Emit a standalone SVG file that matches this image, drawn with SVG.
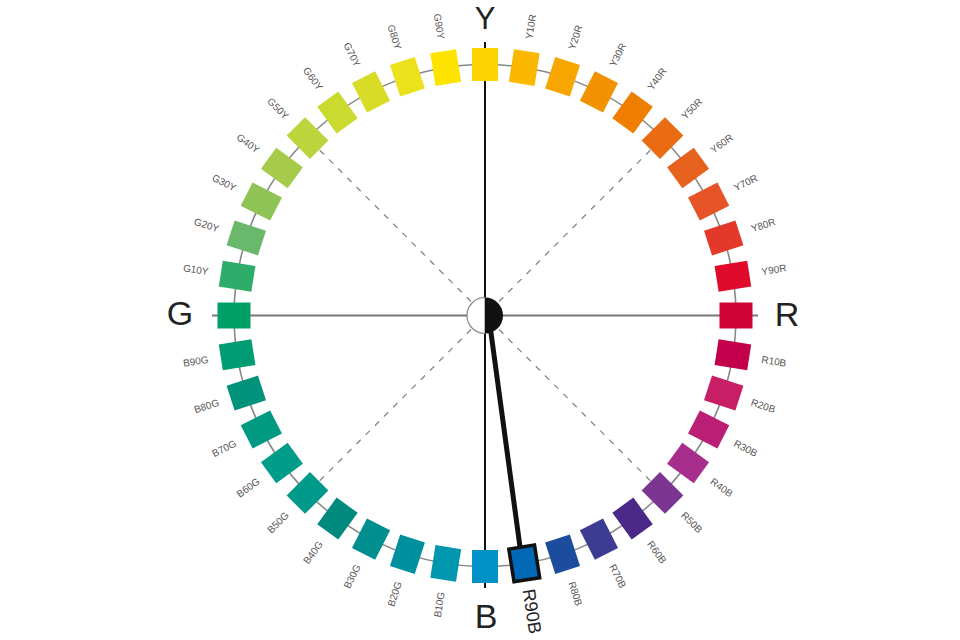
<svg xmlns="http://www.w3.org/2000/svg" width="960" height="640" viewBox="0 0 960 640">
<style>
.sq{stroke:none}
.lb{font-family:"Liberation Sans",Arial,sans-serif;font-size:10px;fill:#555}
.big{font-family:"Liberation Sans",Arial,sans-serif;font-size:34px;fill:#222;text-anchor:middle}
.dash{stroke:#888;stroke-width:1.3;stroke-dasharray:6 7;fill:none}
</style>
<rect width="960" height="640" fill="#fff"/>
<g id="connectors">
<circle cx="485" cy="315.5" r="251" fill="none" stroke="#888" stroke-width="1.6"/>
<line x1="212" y1="315.5" x2="758" y2="315.5" stroke="#777" stroke-width="2"/>
<line x1="485" y1="42" x2="485" y2="588" stroke="#111" stroke-width="2"/>
<g transform="translate(485 315.5)">
<line class="dash" x1="14" y1="-14" x2="177" y2="-177"/>
<line class="dash" x1="14" y1="14" x2="177" y2="177"/>
<line class="dash" x1="-14" y1="14" x2="-177" y2="177"/>
<line class="dash" x1="-14" y1="-14" x2="-177" y2="-177"/>
</g>
</g>
<g id="center">
<path d="M485 297.5 A18 18 0 0 0 485 333.5 Z" fill="#fff" stroke="#888" stroke-width="1.2"/>
<path d="M485 297.5 A18 18 0 0 1 485 333.5 Z" fill="#111"/>
</g>
<g id="pointer">
<line x1="489" y1="318" x2="520" y2="547" stroke="#111" stroke-width="5"/>
</g>
<g transform="translate(485 315.5)">
<g id="Y"><rect class="sq" transform="rotate(0)" x="-13" y="-267.5" width="26" height="33" fill="#FDD400"/></g>
<g id="Y10R"><rect class="sq" transform="rotate(9)" x="-13" y="-267.5" width="26" height="33" fill="#FBB800"/><text class="lb" transform="rotate(-81)" x="280" y="3.5">Y10R</text></g>
<g id="Y20R"><rect class="sq" transform="rotate(18)" x="-13" y="-267.5" width="26" height="33" fill="#F7A600"/><text class="lb" transform="rotate(-72)" x="280" y="3.5">Y20R</text></g>
<g id="Y30R"><rect class="sq" transform="rotate(27)" x="-13" y="-267.5" width="26" height="33" fill="#F39200"/><text class="lb" transform="rotate(-63)" x="280" y="3.5">Y30R</text></g>
<g id="Y40R"><rect class="sq" transform="rotate(36)" x="-13" y="-267.5" width="26" height="33" fill="#EE7D00"/><text class="lb" transform="rotate(-54)" x="280" y="3.5">Y40R</text></g>
<g id="Y50R"><rect class="sq" transform="rotate(45)" x="-13" y="-267.5" width="26" height="33" fill="#EA6B12"/><text class="lb" transform="rotate(-45)" x="280" y="3.5">Y50R</text></g>
<g id="Y60R"><rect class="sq" transform="rotate(54)" x="-13" y="-267.5" width="26" height="33" fill="#E8621F"/><text class="lb" transform="rotate(-36)" x="280" y="3.5">Y60R</text></g>
<g id="Y70R"><rect class="sq" transform="rotate(63)" x="-13" y="-267.5" width="26" height="33" fill="#E65326"/><text class="lb" transform="rotate(-27)" x="280" y="3.5">Y70R</text></g>
<g id="Y80R"><rect class="sq" transform="rotate(72)" x="-13" y="-267.5" width="26" height="33" fill="#E3392B"/><text class="lb" transform="rotate(-18)" x="280" y="3.5">Y80R</text></g>
<g id="Y90R"><rect class="sq" transform="rotate(81)" x="-13" y="-267.5" width="26" height="33" fill="#E00A2C"/><text class="lb" transform="rotate(-9)" x="280" y="3.5">Y90R</text></g>
<g id="R"><rect class="sq" transform="rotate(90)" x="-13" y="-267.5" width="26" height="33" fill="#D00535"/></g>
<g id="R10B"><rect class="sq" transform="rotate(99)" x="-13" y="-267.5" width="26" height="33" fill="#C2004B"/><text class="lb" transform="rotate(9)" x="280" y="3.5">R10B</text></g>
<g id="R20B"><rect class="sq" transform="rotate(108)" x="-13" y="-267.5" width="26" height="33" fill="#C71E66"/><text class="lb" transform="rotate(18)" x="280" y="3.5">R20B</text></g>
<g id="R30B"><rect class="sq" transform="rotate(117)" x="-13" y="-267.5" width="26" height="33" fill="#BA1F75"/><text class="lb" transform="rotate(27)" x="280" y="3.5">R30B</text></g>
<g id="R40B"><rect class="sq" transform="rotate(126)" x="-13" y="-267.5" width="26" height="33" fill="#A82E8E"/><text class="lb" transform="rotate(36)" x="280" y="3.5">R40B</text></g>
<g id="R50B"><rect class="sq" transform="rotate(135)" x="-13" y="-267.5" width="26" height="33" fill="#7C3590"/><text class="lb" transform="rotate(45)" x="280" y="3.5">R50B</text></g>
<g id="R60B"><rect class="sq" transform="rotate(144)" x="-13" y="-267.5" width="26" height="33" fill="#4A2888"/><text class="lb" transform="rotate(54)" x="280" y="3.5">R60B</text></g>
<g id="R70B"><rect class="sq" transform="rotate(153)" x="-13" y="-267.5" width="26" height="33" fill="#3C3C93"/><text class="lb" transform="rotate(63)" x="280" y="3.5">R70B</text></g>
<g id="R80B"><rect class="sq" transform="rotate(162)" x="-13" y="-267.5" width="26" height="33" fill="#1C4C9E"/><text class="lb" transform="rotate(72)" x="280" y="3.5">R80B</text></g>
<g id="R90B"><rect transform="rotate(171)" x="-13" y="-267.5" width="26" height="33" fill="#0068B5" stroke="#111" stroke-width="3.5"/><text class="lb" style="font-size:18px;fill:#222" transform="rotate(81)" x="277" y="6">R90B</text></g>
<g id="B"><rect class="sq" transform="rotate(180)" x="-13" y="-267.5" width="26" height="33" fill="#0091C7"/></g>
<g id="B10G"><rect class="sq" transform="rotate(189)" x="-13" y="-267.5" width="26" height="33" fill="#0097AE"/><text class="lb" text-anchor="end" transform="rotate(-81)" x="-280" y="3.5">B10G</text></g>
<g id="B20G"><rect class="sq" transform="rotate(198)" x="-13" y="-267.5" width="26" height="33" fill="#00909D"/><text class="lb" text-anchor="end" transform="rotate(-72)" x="-280" y="3.5">B20G</text></g>
<g id="B30G"><rect class="sq" transform="rotate(207)" x="-13" y="-267.5" width="26" height="33" fill="#008E8E"/><text class="lb" text-anchor="end" transform="rotate(-63)" x="-280" y="3.5">B30G</text></g>
<g id="B40G"><rect class="sq" transform="rotate(216)" x="-13" y="-267.5" width="26" height="33" fill="#008A7E"/><text class="lb" text-anchor="end" transform="rotate(-54)" x="-280" y="3.5">B40G</text></g>
<g id="B50G"><rect class="sq" transform="rotate(225)" x="-13" y="-267.5" width="26" height="33" fill="#009A8A"/><text class="lb" text-anchor="end" transform="rotate(-45)" x="-280" y="3.5">B50G</text></g>
<g id="B60G"><rect class="sq" transform="rotate(234)" x="-13" y="-267.5" width="26" height="33" fill="#009C8A"/><text class="lb" text-anchor="end" transform="rotate(-36)" x="-280" y="3.5">B60G</text></g>
<g id="B70G"><rect class="sq" transform="rotate(243)" x="-13" y="-267.5" width="26" height="33" fill="#009A83"/><text class="lb" text-anchor="end" transform="rotate(-27)" x="-280" y="3.5">B70G</text></g>
<g id="B80G"><rect class="sq" transform="rotate(252)" x="-13" y="-267.5" width="26" height="33" fill="#00927A"/><text class="lb" text-anchor="end" transform="rotate(-18)" x="-280" y="3.5">B80G</text></g>
<g id="B90G"><rect class="sq" transform="rotate(261)" x="-13" y="-267.5" width="26" height="33" fill="#009C74"/><text class="lb" text-anchor="end" transform="rotate(-9)" x="-280" y="3.5">B90G</text></g>
<g id="G"><rect class="sq" transform="rotate(270)" x="-13" y="-267.5" width="26" height="33" fill="#00A066"/></g>
<g id="G10Y"><rect class="sq" transform="rotate(279)" x="-13" y="-267.5" width="26" height="33" fill="#2EAD6A"/><text class="lb" text-anchor="end" transform="rotate(9)" x="-280" y="3.5">G10Y</text></g>
<g id="G20Y"><rect class="sq" transform="rotate(288)" x="-13" y="-267.5" width="26" height="33" fill="#6AB86C"/><text class="lb" text-anchor="end" transform="rotate(18)" x="-280" y="3.5">G20Y</text></g>
<g id="G30Y"><rect class="sq" transform="rotate(297)" x="-13" y="-267.5" width="26" height="33" fill="#8FC356"/><text class="lb" text-anchor="end" transform="rotate(27)" x="-280" y="3.5">G30Y</text></g>
<g id="G40Y"><rect class="sq" transform="rotate(306)" x="-13" y="-267.5" width="26" height="33" fill="#A6CB4A"/><text class="lb" text-anchor="end" transform="rotate(36)" x="-280" y="3.5">G40Y</text></g>
<g id="G50Y"><rect class="sq" transform="rotate(315)" x="-13" y="-267.5" width="26" height="33" fill="#BDD53C"/><text class="lb" text-anchor="end" transform="rotate(45)" x="-280" y="3.5">G50Y</text></g>
<g id="G60Y"><rect class="sq" transform="rotate(324)" x="-13" y="-267.5" width="26" height="33" fill="#CADA2E"/><text class="lb" text-anchor="end" transform="rotate(54)" x="-280" y="3.5">G60Y</text></g>
<g id="G70Y"><rect class="sq" transform="rotate(333)" x="-13" y="-267.5" width="26" height="33" fill="#D8DC26"/><text class="lb" text-anchor="end" transform="rotate(63)" x="-280" y="3.5">G70Y</text></g>
<g id="G80Y"><rect class="sq" transform="rotate(342)" x="-13" y="-267.5" width="26" height="33" fill="#EBE21C"/><text class="lb" text-anchor="end" transform="rotate(72)" x="-280" y="3.5">G80Y</text></g>
<g id="G90Y"><rect class="sq" transform="rotate(351)" x="-13" y="-267.5" width="26" height="33" fill="#FCE400"/><text class="lb" text-anchor="end" transform="rotate(81)" x="-280" y="3.5">G90Y</text></g>
</g>
<g id="axis-labels">
<text class="big" style="font-size:31px" x="485" y="29">Y</text>
<text class="big" x="180" y="325">G</text>
<text class="big" x="787" y="326">R</text>
<text class="big" x="486" y="628">B</text>
</g>
</svg>
